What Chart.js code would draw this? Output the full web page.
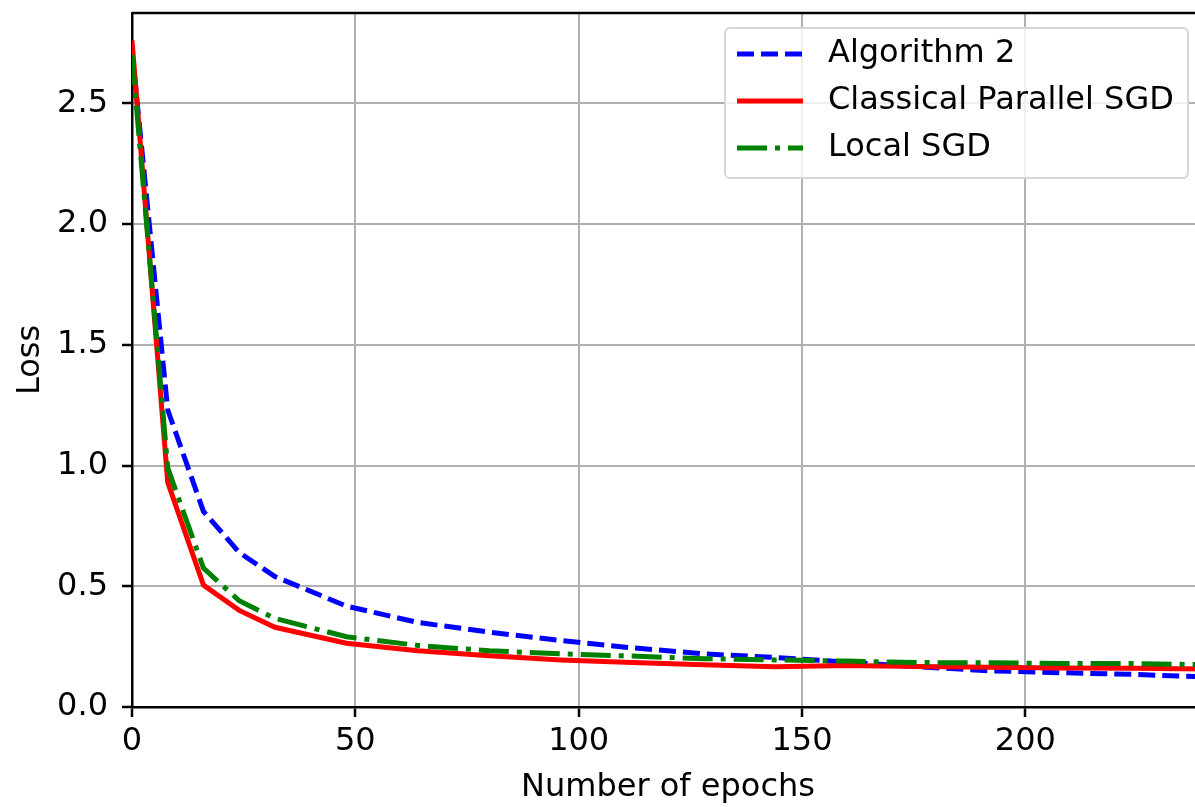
<!DOCTYPE html>
<html>
<head>
<meta charset="utf-8">
<script src="https://cdn.jsdelivr.net/npm/chart.js@4/dist/chart.umd.min.js"></script>
<style>
  html, body { margin: 0; padding: 0; background: #fff; overflow: hidden; }
  #wrap { width: 1210px; height: 807px; }
</style>
</head>
<body>
<div id="wrap"><canvas id="chart" width="1210" height="807"></canvas></div>
<script>
// epochs at which the loss was recorded
const epochs = [0, 8, 16, 24, 32, 48, 64, 80, 96, 112, 128, 144, 160, 176, 192, 208, 224, 240];

const algorithm2 = [2.72, 1.23, 0.81, 0.64, 0.54, 0.418, 0.35, 0.31, 0.275, 0.245, 0.22, 0.205, 0.186, 0.167, 0.150, 0.142, 0.135, 0.125];
const classicalSGD = [2.76, 0.93, 0.505, 0.40, 0.33, 0.264, 0.233, 0.212, 0.195, 0.184, 0.175, 0.167, 0.172, 0.168, 0.165, 0.162, 0.160, 0.157];
const localSGD = [2.70, 0.99, 0.575, 0.44, 0.367, 0.291, 0.255, 0.233, 0.22, 0.211, 0.20, 0.195, 0.19, 0.184, 0.183, 0.180, 0.180, 0.175];

const seriesNames = ['Algorithm 2', 'Classical Parallel SGD', 'Local SGD'];
const xTicks = [0, 50, 100, 150, 200];
const yTicks = [0.0, 0.5, 1.0, 1.5, 2.0, 2.5];

const FONT = 'DejaVu Sans';
const FS = 32;

function pts(ys) {
  return epochs.map((x, i) => ({ x: x, y: ys[i] }));
}

// matplotlib-like box: top spine + legend with dashed samples
const framePlugin = {
  id: 'frame',
  afterDatasetsDraw(chart) {
    const ctx = chart.ctx;
    const a = chart.chartArea;
    ctx.save();
    ctx.strokeStyle = '#000';
    ctx.lineWidth = 2.5;
    ctx.beginPath();
    ctx.moveTo(a.left, a.top);
    ctx.lineTo(a.right, a.top);
    ctx.stroke();

    // legend
    const bx = 725, by = 28, bw = 463, bh = 150, r = 5;
    ctx.beginPath();
    ctx.moveTo(bx + r, by);
    ctx.arcTo(bx + bw, by, bx + bw, by + bh, r);
    ctx.arcTo(bx + bw, by + bh, bx, by + bh, r);
    ctx.arcTo(bx, by + bh, bx, by, r);
    ctx.arcTo(bx, by, bx + bw, by, r);
    ctx.closePath();
    ctx.fillStyle = 'rgba(255,255,255,0.8)';
    ctx.fill();
    ctx.strokeStyle = '#d6d6d6';
    ctx.lineWidth = 2;
    ctx.stroke();

    chart.data.datasets.forEach((ds, k) => {
      const y = 54 + k * 47;
      ctx.beginPath();
      ctx.setLineDash(ds.borderDash || []);
      ctx.strokeStyle = ds.borderColor;
      ctx.lineWidth = ds.borderWidth;
      ctx.moveTo(737, y);
      ctx.lineTo(803, y);
      ctx.stroke();
      ctx.setLineDash([]);
      ctx.fillStyle = '#000';
      ctx.font = FS + 'px "' + FONT + '"';
      ctx.textBaseline = 'middle';
      ctx.textAlign = 'left';
      ctx.fillText(ds.label, 828, y);
    });
    ctx.restore();
  }
};

new Chart(document.getElementById('chart'), {
  type: 'line',
  data: {
    datasets: [
      { label: seriesNames[0], data: pts(algorithm2), borderColor: '#0000ff', borderDash: [17, 7], borderWidth: 5, order: 2 },
      { label: seriesNames[1], data: pts(classicalSGD), borderColor: '#ff0000', borderWidth: 5, order: 1 },
      { label: seriesNames[2], data: pts(localSGD), borderColor: '#008000', borderDash: [30, 8, 5, 8], borderWidth: 5, order: 0 }
    ]
  },
  options: {
    responsive: false,
    animation: false,
    devicePixelRatio: 1,
    layout: { padding: { top: 13, right: 6, left: 0, bottom: 0 } },
    elements: { line: { tension: 0, fill: false, borderCapStyle: 'butt' }, point: { radius: 0 } },
    plugins: { legend: { display: false }, tooltip: { enabled: false } },
    scales: {
      x: {
        type: 'linear',
        min: 0,
        max: 240,
        afterFit: s => { s.height = 100; s.paddingLeft = 0; s.paddingRight = 0; },
        afterBuildTicks: s => { s.ticks = xTicks.map(v => ({ value: v })); },
        ticks: { color: '#000', font: { family: FONT, size: FS }, padding: 5, maxRotation: 0 },
        grid: { color: '#b0b0b0', lineWidth: 2, tickColor: '#000', tickLength: 10, tickWidth: 2.5 },
        border: { color: '#000', width: 2.5 },
        title: { display: true, text: 'Number of epochs', color: '#000', font: { family: FONT, size: FS }, padding: { top: 0, bottom: 0 } }
      },
      y: {
        min: 0,
        max: 2.874,
        afterFit: s => { s.width = 132; s.paddingTop = 0; s.paddingBottom = 0; },
        afterBuildTicks: s => { s.ticks = yTicks.map(v => ({ value: v })); },
        ticks: { color: '#000', font: { family: FONT, size: FS }, padding: 14, callback: v => v.toFixed(1) },
        grid: { color: '#b0b0b0', lineWidth: 2, tickColor: '#000', tickLength: 10, tickWidth: 2.5 },
        border: { color: '#000', width: 2.5 },
        title: { display: true, text: 'Loss', color: '#000', font: { family: FONT, size: FS }, padding: { top: 11, bottom: 0 } }
      }
    }
  },
  plugins: [framePlugin]
});
</script>
</body>
</html>
